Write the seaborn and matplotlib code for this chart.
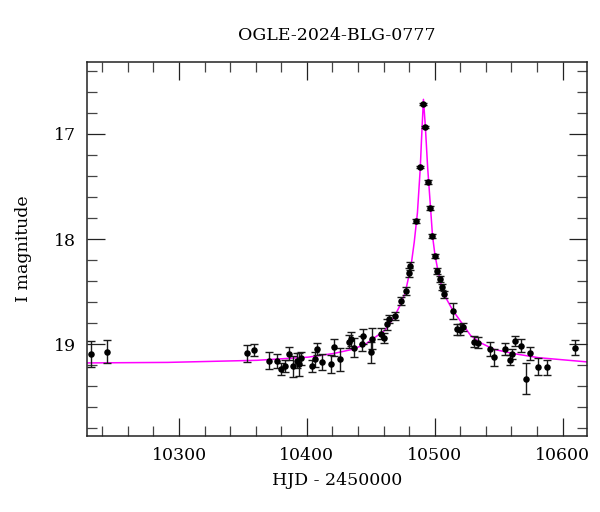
import numpy as np
import pandas as pd
import seaborn as sns
import matplotlib
matplotlib.use("Agg")
import matplotlib.pyplot as plt
from matplotlib.ticker import MultipleLocator

# photometry (HJD - 2450000, I mag, error)
hjd = [10231.1, 10243.9, 10353.5, 10358.9, 10370.2, 10377.0, 10379.9, 10383.0,
       10386.1, 10389.0, 10392.1, 10394.0, 10395.8, 10403.9, 10406.0, 10408.1,
       10412.0, 10419.0, 10421.1, 10425.8, 10433.1, 10434.9, 10437.0, 10442.8,
       10444.3, 10449.8, 10450.9, 10458.2, 10460.0, 10462.9, 10464.2, 10468.6,
       10473.8, 10477.8, 10479.6, 10480.9, 10485.6, 10488.7, 10490.8, 10492.6,
       10495.0, 10496.3, 10497.9, 10499.9, 10501.8, 10503.8, 10505.7, 10507.0,
       10514.0, 10517.3, 10519.5, 10522.1, 10530.5, 10533.5, 10543.0, 10546.7,
       10554.8, 10558.7, 10560.8, 10562.9, 10567.8, 10571.5, 10574.3, 10580.9,
       10587.8, 10609.5]
imag = [19.095, 19.073, 19.088, 19.057, 19.159, 19.162, 19.238, 19.210,
        19.092, 19.210, 19.159, 19.194, 19.137, 19.210, 19.146, 19.048,
        19.171, 19.190, 19.031, 19.146, 18.978, 18.952, 19.035, 18.997,
        18.927, 19.079, 18.950, 18.902, 18.943, 18.812, 18.762, 18.733,
        18.588, 18.495, 18.320, 18.257, 17.829, 17.311, 16.714, 16.936,
        17.454, 17.705, 17.968, 18.162, 18.302, 18.384, 18.454, 18.527,
        18.686, 18.860, 18.862, 18.840, 18.978, 18.987, 19.048, 19.127,
        19.048, 19.152, 19.095, 18.969, 19.016, 19.330, 19.090, 19.216,
        19.222, 19.035]
ierr = [0.12, 0.11, 0.08, 0.06, 0.08, 0.07, 0.06, 0.06,
        0.06, 0.10, 0.07, 0.11, 0.06, 0.06, 0.07, 0.06,
        0.08, 0.09, 0.08, 0.11, 0.06, 0.07, 0.09, 0.07,
        0.07, 0.10, 0.10, 0.05, 0.05, 0.05, 0.04, 0.04,
        0.04, 0.04, 0.04, 0.04, 0.02, 0.01, 0.01, 0.01,
        0.02, 0.02, 0.02, 0.02, 0.03, 0.03, 0.03, 0.03,
        0.08, 0.05, 0.05, 0.04, 0.05, 0.05, 0.07, 0.08,
        0.06, 0.05, 0.05, 0.05, 0.06, 0.15, 0.06, 0.08,
        0.07, 0.07]

# model curve
model_t = [10228, 10291, 10361, 10401, 10421, 10436, 10446, 10461, 10468,
           10473, 10477, 10480, 10482, 10484, 10486.5, 10488.7, 10489.7,
           10491.2, 10492.7, 10494.5, 10496.5, 10498.3, 10500.2, 10502.2,
           10505.2, 10509.2, 10514.2, 10521.2, 10528.2, 10536.2, 10546.2,
           10561.2, 10581.2, 10619]
model_i = [19.18, 19.175, 19.155, 19.125, 19.09, 19.05, 19.00, 18.87, 18.75,
           18.63, 18.51, 18.34, 18.21, 18.03, 17.75, 17.33, 17.05,
           16.67, 16.93, 17.32, 17.66, 17.97, 18.15, 18.28,
           18.44, 18.57, 18.68, 18.80, 18.92, 18.99, 19.05,
           19.09, 19.13, 19.17]

title = "OGLE-2024-BLG-0777"

sns.set_theme(style="ticks")
plt.rcParams['font.family'] = ['DejaVu Serif']
plt.rcParams['text.color'] = 'black'
plt.rcParams['axes.labelcolor'] = 'black'
plt.rcParams['xtick.color'] = 'black'
plt.rcParams['ytick.color'] = 'black'

fig = plt.figure(figsize=(6, 5.12), dpi=100)
ax = fig.add_axes([0.145, 0.1484, 0.833, 0.7306])

df = pd.DataFrame({'hjd': hjd, 'imag': imag, 'err': ierr})
model = pd.DataFrame({'t': model_t, 'i': model_i})

sns.lineplot(data=model, x='t', y='i', color='#ff00ff', lw=1.1,
             estimator=None, sort=False, ax=ax, zorder=2)
ax.errorbar(df['hjd'], df['imag'], yerr=df['err'], fmt='none',
            ecolor='#1a1a1a', elinewidth=1.0, capsize=3, capthick=1.0, zorder=3)
sns.scatterplot(data=df, x='hjd', y='imag', color='black', s=22,
                edgecolor='black', linewidth=0, ax=ax, zorder=4)

ax.set_xlim(10228, 10619)
ax.set_ylim(19.876, 16.314)
ax.xaxis.set_major_locator(MultipleLocator(100))
ax.xaxis.set_minor_locator(MultipleLocator(20))
ax.yaxis.set_major_locator(MultipleLocator(1))
ax.yaxis.set_minor_locator(MultipleLocator(0.2))
ax.tick_params(which='major', direction='in', top=True, right=True,
               length=13, width=0.9, labelsize=12.5, color='#222222', pad=8)
ax.tick_params(which='minor', direction='in', top=True, right=True,
               length=7, width=0.9, color='#444444')
for s in ax.spines.values():
    s.set_linewidth(1.1)
    s.set_color('#222222')

ax.set_title(title, fontsize=12.5, pad=16, color='black')
ax.set_xlabel("HJD - 2450000", fontsize=12.5, labelpad=6)
ax.set_ylabel("I magnitude", fontsize=12.5, labelpad=16)

fig.savefig("out.png", dpi=100)
